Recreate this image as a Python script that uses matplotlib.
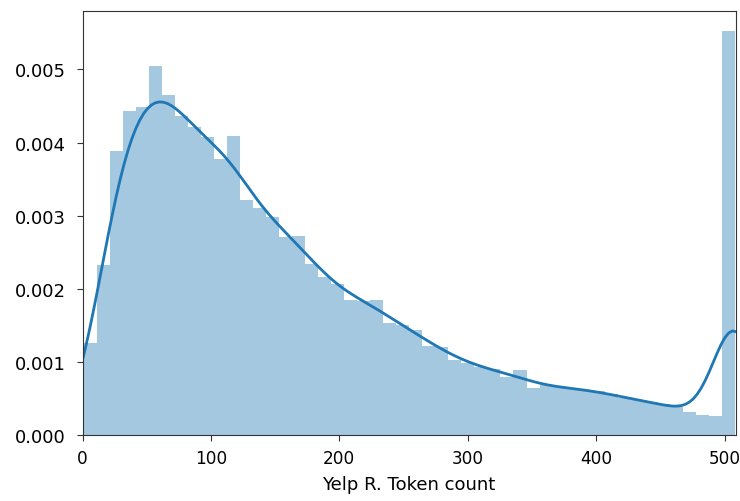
import matplotlib
matplotlib.use("Agg")
import matplotlib.pyplot as plt
import matplotlib.ticker as mticker
import numpy as np
import seaborn as sns

# histogram: 50 bins between min and max token counts (density values)
bin_lo, bin_hi, n_bins = 1, 508, 50
heights = [
    0.00126, 0.00233, 0.00389, 0.00443, 0.00449, 0.00505, 0.00465, 0.00436, 0.00422, 0.00408,
    0.00377, 0.00409, 0.00321, 0.00311, 0.00298, 0.00271, 0.00272, 0.00234, 0.00216, 0.00207,
    0.00185, 0.00183, 0.00184, 0.00153, 0.00151, 0.00144, 0.00122, 0.00121, 0.00103, 0.00099,
    0.00093, 0.00090, 0.00079, 0.00089, 0.00064, 0.00068, 0.00066, 0.00064, 0.00062, 0.00060,
    0.00056, 0.00051, 0.00048, 0.00045, 0.00042, 0.00038, 0.00031, 0.00028, 0.00026, 0.00553,
]
x_ticks = [0, 100, 200, 300, 400, 500]
y_ticks = [0.000, 0.001, 0.002, 0.003, 0.004, 0.005]
xlabel = "Yelp R. Token count"

blue = "#1f77b4"

edges = np.linspace(bin_lo, bin_hi, n_bins + 1)
centers = (edges[:-1] + edges[1:]) / 2
# truncated reviews all sit at the max length, so put the last bin's mass there for the kde
kde_x = centers.copy()
kde_x[-1] = bin_hi

fig = plt.figure(figsize=(7.4, 5.02), dpi=100)
ax = fig.add_axes([82.5 / 740, 66 / 502, 653 / 740, 424 / 502])

ax.hist(centers, bins=edges, weights=heights, color=blue, alpha=0.4)
sns.kdeplot(x=kde_x, weights=heights, bw_method=0.12, color=blue, lw=2, ax=ax)

ax.set_xlim(0, 508.5)
ax.set_ylim(0, 0.0058)
ax.set_xticks(x_ticks)
ax.set_yticks(y_ticks)
ax.yaxis.set_major_formatter(mticker.FormatStrFormatter("%.3f"))
ax.tick_params(length=4.3, color="#333333")
ax.tick_params(axis="y", labelsize=13, pad=7.5)
ax.tick_params(axis="x", labelsize=12.2, pad=5.5)
for s in ax.spines.values():
    s.set_color("#333333")
ax.set_xlabel(xlabel, fontsize=13, labelpad=6)
ax.set_ylabel("")

fig.savefig("out.png", dpi=100)
